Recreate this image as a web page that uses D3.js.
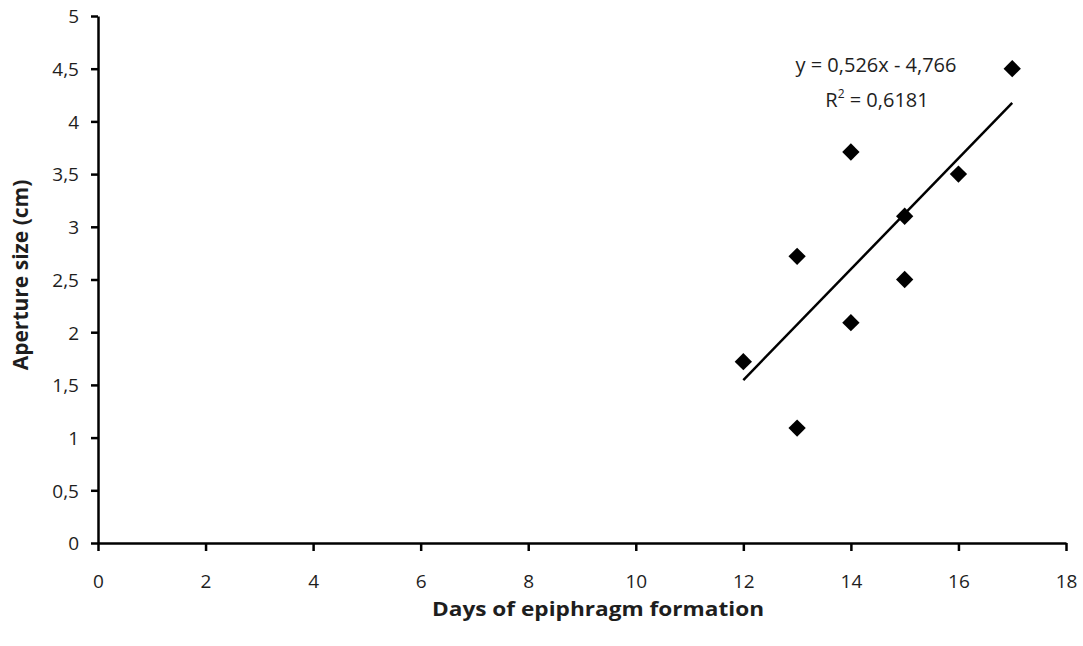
<!DOCTYPE html>
<html>
<head>
<meta charset="utf-8">
<script src="https://cdn.jsdelivr.net/npm/d3@7"></script>
<style>
  body { margin: 0; background: #fff; }
  svg text { font-family: "Open Sans", sans-serif; fill: #1e1e1e; }
</style>
</head>
<body>
<svg id="chart" width="1083" height="646"></svg>
<script>
// data
const days = [12, 13, 13, 14, 14, 15, 15, 16, 17]
const aperture = [1.72, 2.72, 1.09, 3.71, 2.09, 3.1, 2.5, 3.5, 4.5]

const xTicks = [0, 2, 4, 6, 8, 10, 12, 14, 16, 18]
const yTicks = [0, 0.5, 1, 1.5, 2, 2.5, 3, 3.5, 4, 4.5, 5]

const slope = 0.526
const intercept = -4.766
const eqLabel = 'y = 0,526x - 4,766'
const r2Value = ' = 0,6181'

const xTitle = 'Days of epiphragm formation'
const yTitle = 'Aperture size (cm)'

const fmt = v => String(v).replace('.', ',')

const svg = d3.select('#chart')
const margin = { left: 98, right: 17, top: 16, bottom: 103 }
const width = 1083, height = 646

const x = d3.scaleLinear().domain([0, 18]).range([margin.left, width - margin.right])
const y = d3.scaleLinear().domain([0, 5]).range([height - margin.bottom, margin.top])

const xAxis = svg.append('g')
  .attr('transform', `translate(0, ${y(0)})`)
  .call(d3.axisBottom(x).tickValues(xTicks).tickFormat(fmt).tickSize(8).tickSizeOuter(0).tickPadding(24))
const yAxis = svg.append('g')
  .attr('transform', `translate(${x(0)}, 0)`)
  .call(d3.axisLeft(y).tickValues(yTicks).tickFormat(fmt).tickSize(7).tickSizeOuter(0).tickPadding(12))

svg.selectAll('.domain').attr('stroke', '#000').attr('stroke-width', 2.5)
svg.selectAll('.tick line').attr('stroke', '#000').attr('stroke-width', 2.5)
svg.selectAll('.tick text').attr('font-size', 19).attr('fill', '#1e1e1e')
  .style('font-family', '"Open Sans", sans-serif')
yAxis.selectAll('.tick text').attr('dy', '0.36em')

// trend line
const x0 = d3.min(days), x1 = d3.max(days)
svg.append('line')
  .attr('x1', x(x0)).attr('y1', y(slope * x0 + intercept))
  .attr('x2', x(x1)).attr('y2', y(slope * x1 + intercept))
  .attr('stroke', '#000').attr('stroke-width', 2.5)

// points
const diamond = d3.symbol().type(d3.symbolSquare).size(150)
svg.append('g').selectAll('path')
  .data(days.map((d, i) => ({ d, a: aperture[i] })))
  .join('path')
  .attr('d', diamond)
  .attr('transform', p => `translate(${x(p.d)}, ${y(p.a)}) rotate(45)`)
  .attr('fill', '#000')

// equation
svg.append('text')
  .attr('x', 876).attr('y', 72)
  .attr('text-anchor', 'middle')
  .attr('font-size', 20)
  .text(eqLabel)
const r2 = svg.append('text')
  .attr('x', 877).attr('y', 107)
  .attr('text-anchor', 'middle')
  .attr('font-size', 20)
r2.append('tspan').text('R')
r2.append('tspan').text('2').attr('font-size', 12).attr('dy', -9)
r2.append('tspan').text(r2Value).attr('dy', 9)

// axis titles
svg.append('text')
  .attr('x', 598).attr('y', 616)
  .attr('text-anchor', 'middle')
  .attr('font-size', 20).attr('font-weight', 'bold')
  .attr('textLength', 332).attr('lengthAdjust', 'spacingAndGlyphs')
  .text(xTitle)
svg.append('text')
  .attr('transform', `translate(28, 275) rotate(-90)`)
  .attr('text-anchor', 'middle')
  .attr('font-size', 21).attr('font-weight', 'bold')
  .text(yTitle)
</script>
</body>
</html>
